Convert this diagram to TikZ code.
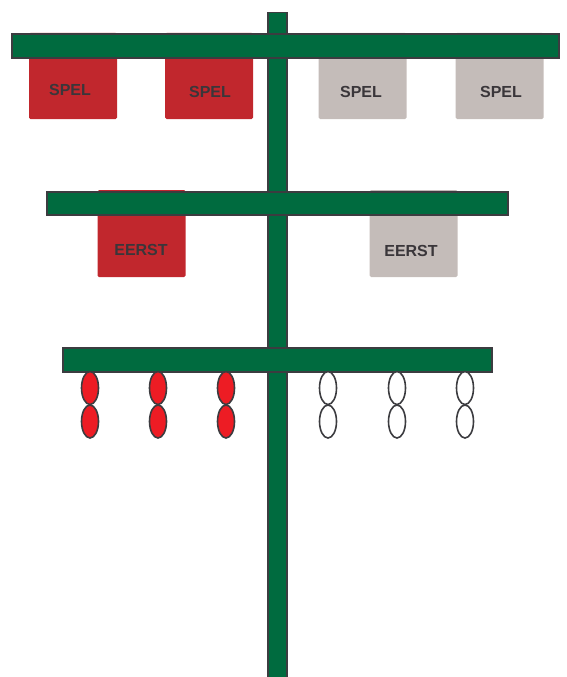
\documentclass[tikz,border=0pt]{standalone}
\usepackage{fontspec}
\newfontfamily\flagfont{Liberation Sans}
\usetikzlibrary{shapes.geometric}
\definecolor{polegreen}{RGB}{0,107,63}
\definecolor{edgegray}{RGB}{60,60,64}
\definecolor{flagred}{RGB}{193,39,45}
\definecolor{flaggray}{RGB}{196,188,185}
\definecolor{beadred}{RGB}{237,28,36}
\definecolor{textgray}{RGB}{58,54,58}
\tikzset{
bar/.style={draw=edgegray, line width=1.3pt, fill=polegreen, inner sep=0pt}, % the green pole and cross bars
flag/.style={rounded corners=1.5pt, minimum width=88pt, minimum height=86pt, inner sep=0pt},
redflag/.style={flag, fill=flagred},
grayflag/.style={flag, fill=flaggray},
flagtext/.style={font=\flagfont\bfseries\fontsize{16}{16}\selectfont, text=textgray},
bead/.style={ellipse, draw=edgegray, line width=1.6pt, minimum width=17pt, minimum height=33pt, inner sep=0pt},
}
\begin{document}
\begin{tikzpicture}[x=1pt, y=-1pt]
\useasboundingbox (0,0) rectangle (566,677);

% flags hang behind the bars
\node[redflag] (spelA) at (73,76) {};
\node[redflag] (spelB) at (209,76) {};
\node[grayflag] (spelC) at (362.5,76) {};
\node[grayflag] (spelD) at (499.5,76) {};
\node[redflag, minimum height=87pt] (eerstA) at (141.5,233.5) {};
\node[grayflag, minimum height=87pt] (eerstB) at (413.5,233.5) {};

\node[flagtext] (spelAtext) at (70,90) {SPEL};
\node[flagtext] (spelBtext) at (210,92) {SPEL};
\node[flagtext] (spelCtext) at (361,92) {SPEL};
\node[flagtext] (spelDtext) at (501,92) {SPEL};
\node[flagtext] (eerstAtext) at (141,250) {EERST};
\node[flagtext] (eerstBtext) at (411,251) {EERST};

% pole and cross bars
\node[bar, minimum width=19pt, minimum height=668pt] (pole) at (277.5,346.5) {};
\node[bar, minimum width=547pt, minimum height=24pt] (topbar) at (285.5,46) {};
\node[bar, minimum width=461pt, minimum height=23pt] (midbar) at (277.5,203.5) {};
\node[bar, minimum width=429pt, minimum height=24pt] (lowbar) at (277.5,360) {};

% beads under the lowest bar
\foreach \bx/\bcol [count=\i] in {90/beadred, 158/beadred, 226/beadred, 328/white, 397/white, 465/white}{
  \node[bead, fill=\bcol] (beadtop\i) at (\bx,388) {};
  \node[bead, fill=\bcol] (beadlow\i) at (\bx,421.5) {};
}
\end{tikzpicture}
\end{document}
